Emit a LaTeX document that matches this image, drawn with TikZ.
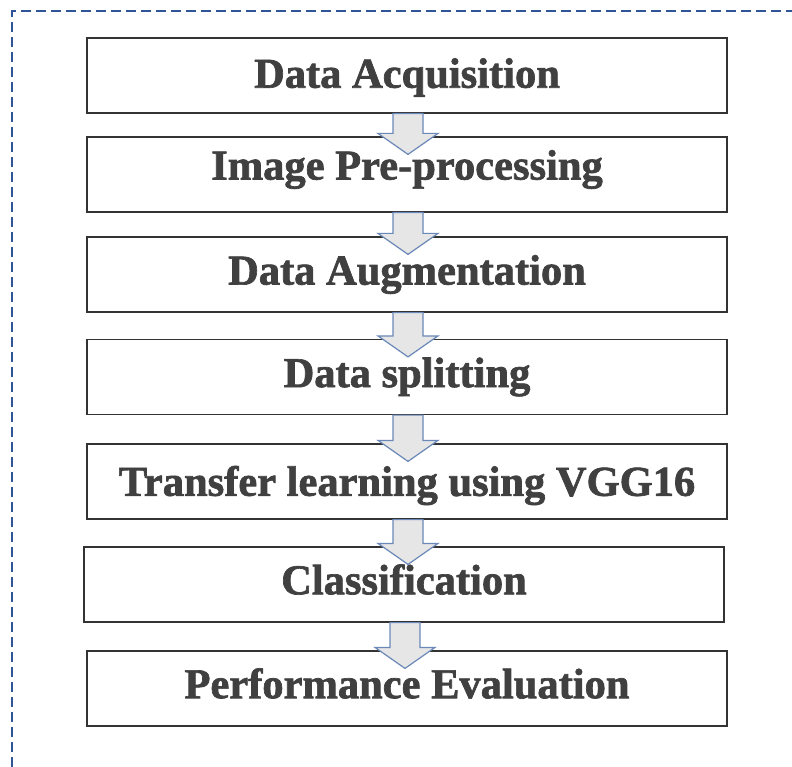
\documentclass[tikz,border=0pt]{standalone}
\usepackage{fontspec}
\setmainfont{Liberation Serif}
\newfontfamily\heavy[BoldFeatures={FakeBold=1.6}]{Liberation Serif}
\usetikzlibrary{calc}
\definecolor{txtgray}{HTML}{404040}
\definecolor{frameblue}{HTML}{2F5597}
\definecolor{arrowfill}{HTML}{E6E6E6}
\definecolor{arrowline}{HTML}{6A88B8}
\newcommand{\shiftup}[2]{\raisebox{#1}[\height][\depth]{#2}}
\tikzset{
  stepbox/.style={draw=black!80, line width=1.2pt, minimum width=640pt, minimum height=75pt,
    inner sep=0pt, font=\heavy\fontsize{42.5}{46}\selectfont\bfseries, text=txtgray},
  blockarrow/.style={draw=arrowline, fill=arrowfill, line width=1.2pt, line join=miter},
  frameline/.style={draw=frameblue, line width=1.4pt, dash pattern=on 10pt off 5pt}
}
\begin{document}
\begin{tikzpicture}[x=1pt,y=-1pt]
\useasboundingbox (0,0) rectangle (792,767);
\coordinate (fbl) at (12,767);
\coordinate (ftl) at (12,11);
\coordinate (ftr) at (792,11);
\draw[frameline] (fbl) -- (ftl) -- (ftr);
\node[stepbox] (b1) at (407,75.5) {\shiftup{-2pt}{Data Acquisition}};
\node[stepbox] (b2) at (407,174.5) {\shiftup{5pt}{Image Pre-processing}};
\node[stepbox] (b3) at (407,274.5) {\shiftup{0pt}{Data Augmentation}};
\node[stepbox] (b4) at (407,377) {\shiftup{0pt}{Data splitting}};
\node[stepbox] (b5) at (407,481.5) {\shiftup{-4pt}{Transfer learning using VGG16}};
\node[stepbox] (b6) at (404,584.5) {\shiftup{5pt}{Classification}};
\node[stepbox] (b7) at (407,688.5) {\shiftup{5pt}{Performance Evaluation}};
\foreach \a/\b in {b1/b2,b2/b3,b3/b4,b4/b5,b5/b6,b6/b7}{
  \draw[blockarrow] let \p1=(\a.south), \p2=(\b.north) in
    (\x1-14pt,\y1) -- (\x1-14pt,\y2+3pt) -- (\x1-29pt,\y2+3pt) -- (\x1+1pt,\y2-18pt)
    -- (\x1+31pt,\y2+3pt) -- (\x1+16pt,\y2+3pt) -- (\x1+16pt,\y1) -- cycle;
}
\end{tikzpicture}
\end{document}
